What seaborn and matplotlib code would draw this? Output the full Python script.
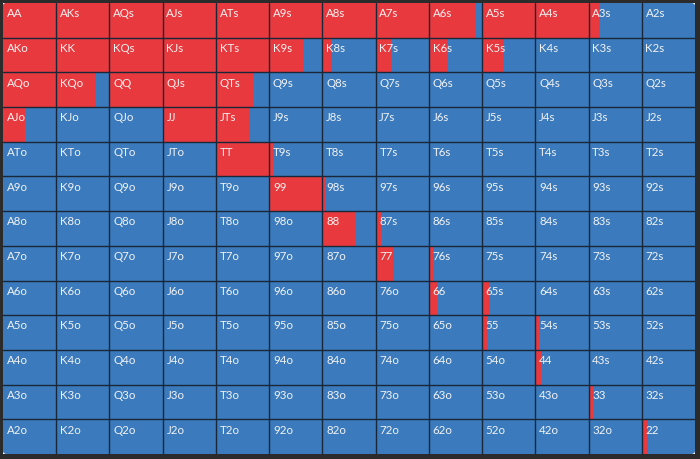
import numpy as np
import pandas as pd
import seaborn as sns
import matplotlib
matplotlib.use("Agg")
import matplotlib.pyplot as plt
from matplotlib.patches import FancyBboxPatch

ranks = ["A", "K", "Q", "J", "T", "9", "8", "7", "6", "5", "4", "3", "2"]

# fraction of each hand played (red share of cell), rows/cols in rank order
row_A = [1, 1, 1, 1, 1, 1, 1, 1, 0.88, 1, 1, 0.19, 0]
row_K = [1, 1, 1, 1, 1, 0.64, 0.19, 0.28, 0.34, 0.41, 0, 0, 0]
row_Q = [1, 0.75, 1, 1, 0.72, 0, 0, 0, 0, 0, 0, 0, 0]
row_J = [0.42, 0, 0, 1, 0.64, 0, 0, 0, 0, 0, 0, 0, 0]
row_T = [0, 0, 0, 0, 1, 0.08, 0, 0, 0, 0, 0, 0, 0]
row_9 = [0, 0, 0, 0, 0, 1, 0.07, 0, 0, 0, 0, 0, 0]
row_8 = [0, 0, 0, 0, 0, 0, 0.62, 0.11, 0, 0, 0, 0, 0]
row_7 = [0, 0, 0, 0, 0, 0, 0, 0.34, 0.09, 0, 0, 0, 0]
row_6 = [0, 0, 0, 0, 0, 0, 0, 0, 0.15, 0.14, 0, 0, 0]
row_5 = [0, 0, 0, 0, 0, 0, 0, 0, 0, 0.10, 0.06, 0, 0]
row_4 = [0, 0, 0, 0, 0, 0, 0, 0, 0, 0, 0.11, 0, 0]
row_3 = [0, 0, 0, 0, 0, 0, 0, 0, 0, 0, 0, 0.09, 0]
row_2 = [0, 0, 0, 0, 0, 0, 0, 0, 0, 0, 0, 0, 0.11]
freq = [row_A, row_K, row_Q, row_J, row_T, row_9, row_8, row_7,
        row_6, row_5, row_4, row_3, row_2]

RED = "#e8393f"
BLUE = "#3b7bbd"
LINE = "#1a2738"
BG = "#2b2b2b"
TXT = "#f2f2f2"

sns.set_theme(style="white")
plt.rcParams["font.family"] = ["Lato", "DejaVu Sans"]

n = len(ranks)
labels = []
for i in range(n):
    rowl = []
    for j in range(n):
        if i == j:
            rowl.append(ranks[i] + ranks[j])
        elif i < j:
            rowl.append(ranks[i] + ranks[j] + "s")
        else:
            rowl.append(ranks[j] + ranks[i] + "o")
    labels.append(rowl)

fig = plt.figure(figsize=(7.0, 4.59), dpi=100, facecolor=BG)
W, H = 700, 459
ax = fig.add_axes([3 / W, (H - 454) / H, 692 / W, 451 / H])

df = pd.DataFrame(np.zeros((n, n)), index=ranks, columns=ranks)
sns.heatmap(df, ax=ax, cmap=matplotlib.colors.ListedColormap([BLUE]),
            cbar=False, linewidths=0, xticklabels=False, yticklabels=False)

clip = FancyBboxPatch((0, 0), 1, 1, boxstyle="round,pad=0,rounding_size=0.006",
                      transform=ax.transAxes, facecolor="none", edgecolor="none")
ax.add_patch(clip)
for coll in ax.collections:
    coll.set_clip_path(clip)

for i in range(n):
    bars = ax.barh([i + 0.5] * n, freq[i], left=np.arange(n), height=1.0,
                   color=RED, linewidth=0, align="center", zorder=2)
    for b in bars:
        b.set_clip_path(clip)

for k in range(1, n):
    ax.axhline(k, color=LINE, lw=1.0, zorder=3)
    ax.axvline(k, color=LINE, lw=1.0, zorder=3)

for i in range(n):
    for j in range(n):
        ax.text(j + 0.07, i + 0.15, labels[i][j], ha="left", va="top",
                color=TXT, fontsize=8.3, zorder=4)

ax.set_xlim(0, n)
ax.set_ylim(n, 0)
for s in ax.spines.values():
    s.set_visible(False)

fig.savefig("out.png", dpi=100, facecolor=BG)
